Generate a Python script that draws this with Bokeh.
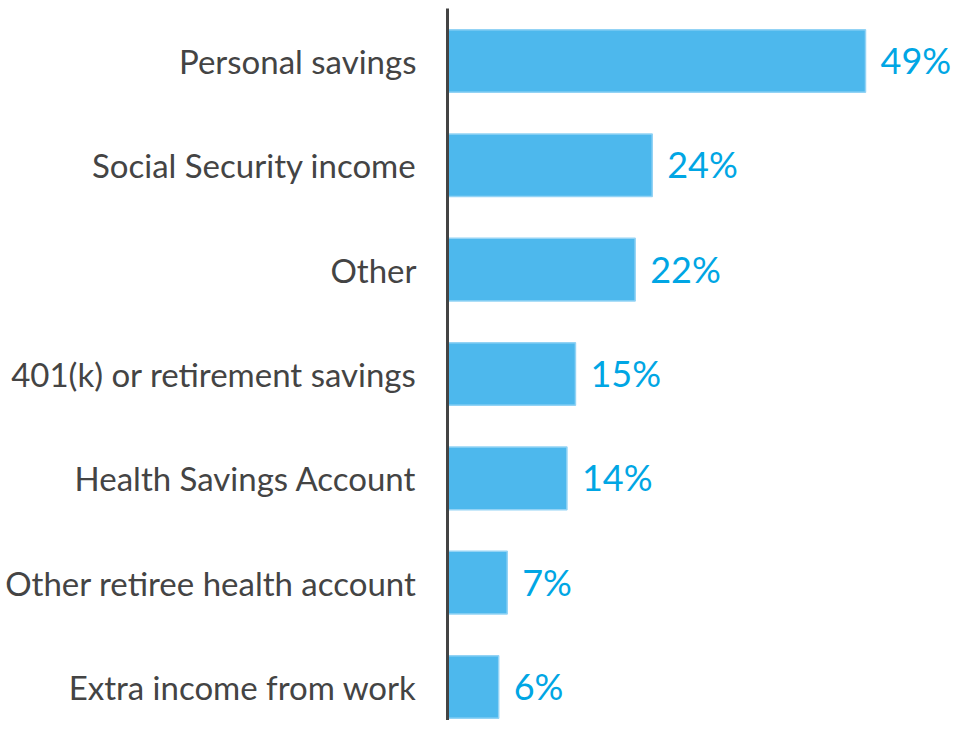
from bokeh.plotting import figure
from bokeh.models import ColumnDataSource, Range1d, FixedTicker, LabelSet
from bokeh.core.properties import value
from bokeh.embed import file_html
from bokeh.resources import INLINE

categories = ["Personal savings", "Social Security income", "Other",
              "401(k) or retirement savings", "Health Savings Account",
              "Other retiree health account", "Extra income from work"]
values = [49, 24, 22, 15, 14, 7, 6]
value_labels = [f"{v}%" for v in values]
positions = list(range(len(categories)))

src = ColumnDataSource(dict(y=positions, v=values, lab=value_labels))

p = figure(width=955, height=720, output_backend="svg", toolbar_location=None,
           x_range=Range1d(0, 59.55), y_range=Range1d(6.321, -0.503),
           x_axis_location=None, min_border_left=447, min_border_right=0,
           min_border_top=8, min_border_bottom=0, outline_line_color=None)

p.hbar(y="y", right="v", left=0, height=0.6, source=src,
       fill_color="#4db8ed", line_color="#93d3f5", line_width=1.5)

labels = LabelSet(x="v", y="y", text="lab", source=src, text_baseline="middle",
                  text_align="left", text_color="#00a6e4", text_font=value("Lato"),
                  text_font_size="36px", x_offset=15, y_offset=1)
p.add_layout(labels)

p.xgrid.visible = False
p.ygrid.visible = False
yaxis = p.yaxis[0]
yaxis.ticker = FixedTicker(ticks=positions)
yaxis.major_label_overrides = {i: c for i, c in enumerate(categories)}
yaxis.major_tick_line_color = None
yaxis.minor_tick_line_color = None
yaxis.axis_line_color = "#444444"
yaxis.axis_line_width = 3
yaxis.major_label_text_font = "Lato"
yaxis.major_label_text_font_size = "33px"
yaxis.major_label_text_color = "#444444"
yaxis.major_label_standoff = 25

open("out.html", "w").write(file_html(p, INLINE))
